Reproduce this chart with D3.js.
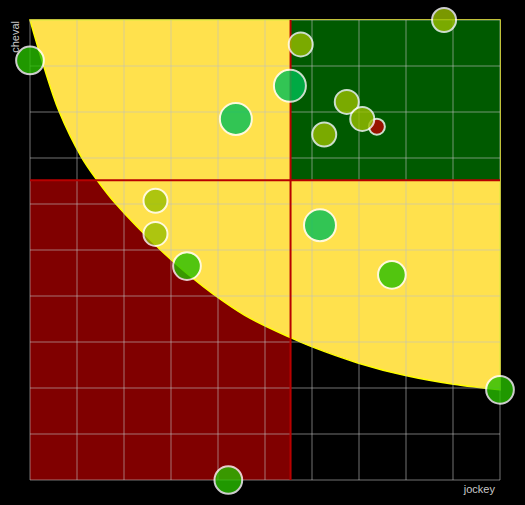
<!DOCTYPE html>
<html>
<head>
<meta charset="utf-8">
<script src="https://cdn.jsdelivr.net/npm/d3@7"></script>
<style>
  body { margin: 0; background: #000; }
  text { font-family: "Liberation Sans", Arial, sans-serif; font-size: 11px; fill: #c8c8c8; }
</style>
</head>
<body>
<div class="canvas"></div>
<script>
// DATA
var jockey = [0, 5.76, 5.53, 4.38, 8.81, 6.74, 7.38, 7.07, 6.26, 2.67, 2.67, 3.34, 6.17, 7.70, 10, 4.22];
var cheval = [9.12, 9.47, 8.57, 7.85, 10, 8.22, 7.68, 7.85, 7.51, 6.07, 5.35, 4.65, 5.54, 4.46, 1.96, 0];
var weight = [12, 9, 16, 16, 9, 9, 4, 9, 9, 9, 9, 12, 16, 12, 12, 12];
var score  = [0.73, 0.49, 1, 1, 0.49, 0.49, 0, 0.49, 0.49, 0.49, 0.49, 0.73, 1, 0.73, 0.73, 0.73];

// frontier
var frontX = [0, 0.29, 0.62, 1.10, 1.44, 1.81, 2.80, 3.47, 3.90, 4.57, 5.53, 5.99, 6.99, 7.99, 9.01, 10];
var frontY = [10, 9.0, 8.01, 7.01, 6.50, 6.02, 4.98, 4.38, 4.04, 3.58, 3.10, 2.90, 2.54, 2.27, 2.08, 1.96];

var xLabel = 'jockey';
var yLabel = 'cheval';

// VIZ DIMENSIONS
var margin = { top: 20, right: 25, bottom: 25, left: 30 };
var w = 525, h = 505;
var width = w - margin.left - margin.right;
var height = h - margin.top - margin.bottom;

var svg = d3.select('.canvas').append('svg')
    .attr('width', w)
    .attr('height', h);

var g = svg.append('g')
    .attr('transform', 'translate(' + margin.left + ',' + margin.top + ')');

var points = jockey.map((d, i) => ({ x: d, y: cheval[i], w: weight[i], s: score[i] }));
var front = frontX.map((d, i) => ({ x: d, y: frontY[i] }));

var x = d3.scaleLinear().domain(d3.extent(jockey)).range([0, width]);
var y = d3.scaleLinear().domain(d3.extent(cheval)).range([height, 0]);
var r = d3.scaleSqrt().domain([0, 16]).range([0, 16]);
var hue = d3.scaleLinear().domain([0, 1]).range([0, 147]);

var mx = d3.mean(jockey);
var my = d3.mean(cheval);

// red quadrant (low / low)
g.append('rect')
    .attr('x', 0)
    .attr('y', y(my))
    .attr('width', x(mx))
    .attr('height', height - y(my))
    .attr('fill', '#800000');

// yellow zone above the frontier
var area = d3.area()
    .x(d => x(d.x))
    .y0(y(d3.max(cheval)))
    .y1(d => y(d.y))
    .curve(d3.curveCatmullRom.alpha(0.5));

g.append('path')
    .datum(front)
    .attr('d', area)
    .attr('fill', '#ffe14d')
    .attr('stroke', '#ffff00')
    .attr('stroke-width', 1.5);

// green quadrant (high / high)
g.append('rect')
    .attr('x', x(mx))
    .attr('y', 0)
    .attr('width', width - x(mx))
    .attr('height', y(my))
    .attr('fill', '#005a00');

// GRID
var grid = g.append('g')
    .attr('stroke', '#c0c0c0')
    .attr('stroke-opacity', 0.4)
    .attr('stroke-width', 1.5);

grid.selectAll('.vx')
    .data(x.ticks(10))
    .enter().append('line')
    .attr('x1', d => x(d)).attr('x2', d => x(d))
    .attr('y1', 0).attr('y2', height);

grid.selectAll('.hy')
    .data(y.ticks(10))
    .enter().append('line')
    .attr('y1', d => y(d)).attr('y2', d => y(d))
    .attr('x1', 0).attr('x2', width);

// MEAN LINES
g.append('line')
    .attr('x1', 0).attr('x2', width)
    .attr('y1', y(my)).attr('y2', y(my))
    .attr('stroke', '#b80000')
    .attr('stroke-width', 2);

g.append('line')
    .attr('x1', x(mx)).attr('x2', x(mx))
    .attr('y1', 0).attr('y2', height)
    .attr('stroke', '#b80000')
    .attr('stroke-width', 2);

// BUBBLES
g.selectAll('.dot')
    .data(points)
    .enter().append('circle')
    .attr('class', 'dot')
    .attr('cx', d => x(d.x))
    .attr('cy', d => y(d.y))
    .attr('r', d => r(d.w))
    .attr('fill', d => d3.hsl(hue(d.s), 1, 0.375))
    .attr('stroke', '#ffffff')
    .attr('stroke-width', 2)
    .attr('opacity', 0.8);

// AXIS LABELS
svg.append('text')
    .attr('x', margin.left + width - 5)
    .attr('y', h - 12)
    .attr('text-anchor', 'end')
    .text(xLabel);

svg.append('text')
    .attr('transform', 'translate(' + (margin.left - 11) + ',' + (margin.top + 1) + ') rotate(-90)')
    .attr('text-anchor', 'end')
    .text(yLabel);
</script>
</body>
</html>
